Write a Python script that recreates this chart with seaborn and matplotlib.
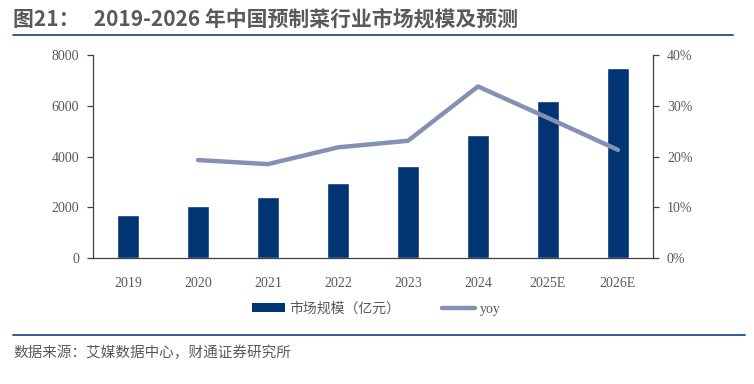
import numpy as np
import pandas as pd
import matplotlib
matplotlib.use("Agg")
import matplotlib.pyplot as plt
import seaborn as sns
from matplotlib.patches import Patch
from matplotlib.lines import Line2D
from matplotlib.ticker import FuncFormatter

## data
years = ["2019", "2020", "2021", "2022", "2023", "2024", "2025E", "2026E"]
market_size = [1700, 2030, 2410, 2950, 3620, 4840, 6170, 7470]   # 亿元
yoy = [np.nan, 19.3, 18.5, 21.8, 23.1, 33.8, 27.6, 21.3]       # %

title = "图21：   2019-2026 年中国预制菜行业市场规模及预测"
source = "数据来源：艾媒数据中心，财通证券研究所"
bar_label = "市场规模（亿元）"
line_label = "yoy"

BAR_C = "#003473"
LINE_C = "#8491B3"
TXT_C = "#595959"
RULE_C = "#1F4E8C"

sns.set_theme(style="white")
plt.rcParams['font.family'] = ['Liberation Serif', 'Noto Sans CJK SC', 'DejaVu Sans']

df = pd.DataFrame({"year": years, "size": market_size, "yoy": yoy})

fig = plt.figure(figsize=(7.54, 3.84), dpi=100)
ax = fig.add_axes([93 / 754, 1 - 258 / 384, (653 - 93) / 754, (258 - 55) / 384])

sns.barplot(data=df, x="year", y="size", color=BAR_C, width=0.31, saturation=1,
            ax=ax, zorder=2)
ax.set_xlim(-0.5, len(years) - 0.5)
ax.set_ylim(0, 8000)
ax.set_yticks([0, 2000, 4000, 6000, 8000])
ax.set_xlabel("")
ax.set_ylabel("")

ax2 = ax.twinx()
sns.pointplot(data=df, x="year", y="yoy", color=LINE_C, markers="", linewidth=3.2,
              errorbar=None, ax=ax2)
ax2.set_xlim(-0.5, len(years) - 0.5)
ax2.set_ylim(0, 40)
ax2.set_yticks([0, 10, 20, 30, 40])
ax2.yaxis.set_major_formatter(FuncFormatter(lambda v, p: "%d%%" % v))
ax2.set_ylabel("")
ax2.set_xlabel("")

for a in (ax, ax2):
    for s in a.spines.values():
        s.set_visible(False)
    a.grid(False)
ax.spines["left"].set_visible(True)
ax.spines["bottom"].set_visible(True)
ax2.spines["right"].set_visible(True)
for s in (ax.spines["left"], ax.spines["bottom"], ax2.spines["right"]):
    s.set_color("#404040")
    s.set_linewidth(0.9)

ax.tick_params(axis="y", left=True, length=4, width=0.9, color="#404040",
               labelsize=10, labelcolor=TXT_C, pad=6)
ax.tick_params(axis="x", bottom=False, labelsize=10, labelcolor=TXT_C, pad=8)
ax2.tick_params(axis="y", right=True, length=4, width=0.9, color="#404040",
                labelsize=10, labelcolor=TXT_C, pad=6)

handles = [Patch(facecolor=BAR_C, edgecolor="none", label=bar_label),
           Line2D([0], [0], color=LINE_C, lw=3.2, label=line_label)]
fig.legend(handles=handles, loc="center", bbox_to_anchor=(376 / 754, 1 - 309 / 384),
           ncol=2, frameon=False, handlelength=2.4, handleheight=0.6,
           handletextpad=0.3, columnspacing=3,
           prop={"family": ['Liberation Serif', 'Noto Sans CJK SC'], "size": 10},
           labelcolor=TXT_C)

# title, rules and source note
fig.text(13 / 754, 1 - 19 / 384, title, fontsize=15, fontweight="bold", color=TXT_C,
         family=['Noto Sans CJK SC', 'DejaVu Sans'], va="center", ha="left")
fig.add_artist(Line2D([13 / 754, 733 / 754], [1 - 35 / 384, 1 - 35 / 384],
                      color=RULE_C, lw=1.3, transform=fig.transFigure))
fig.add_artist(Line2D([13 / 754, 745 / 754], [1 - 335 / 384, 1 - 335 / 384],
                      color=RULE_C, lw=1.3, transform=fig.transFigure))
fig.text(13 / 754, 1 - 353 / 384, source, fontsize=10.5, color=TXT_C,
         family=['Noto Sans CJK SC', 'DejaVu Sans'], va="center", ha="left")

fig.savefig("out.png", dpi=100)
